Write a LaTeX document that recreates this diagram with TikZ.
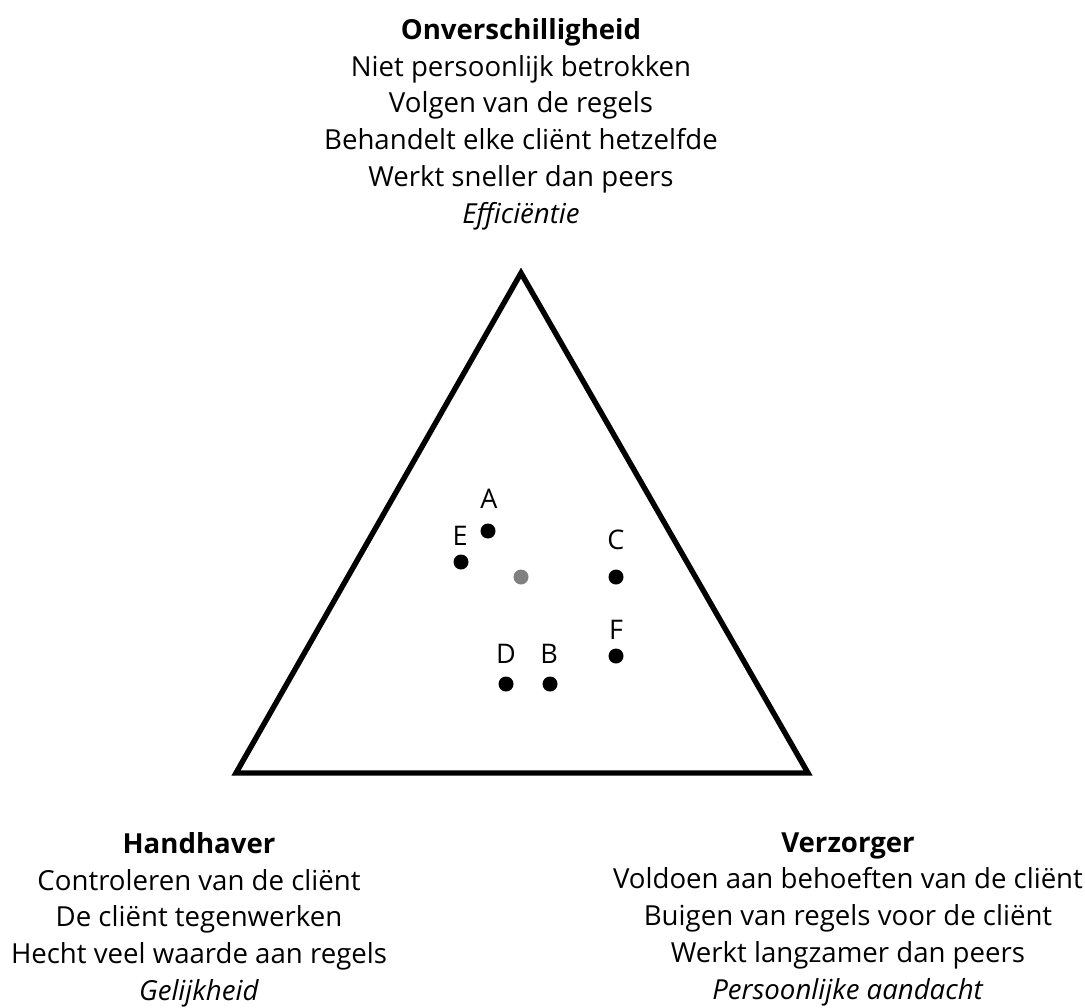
\documentclass[tikz,border=0pt]{standalone}
\usepackage{fontspec}
\setmainfont{Open Sans}
\usepackage{tikz}
\usetikzlibrary{positioning}

\tikzset{
  blok/.style={align=center, font=\fontsize{13.8}{18.4}\selectfont, inner sep=0pt},
  punt/.style={circle, fill=black, inner sep=0pt, minimum size=7.5pt},
  letter/.style={font=\fontsize{13.5}{14}\selectfont, inner sep=0pt}
}

\begin{document}
\begin{tikzpicture}[x=0.5pt, y=-0.5pt]
      \useasboundingbox (0,0) rectangle (1085,1007);
      % driehoek
      \coordinate (top) at (521,273);
      \coordinate (links) at (236,773);
      \coordinate (rechts) at (808,773);
      \draw[line width=2.7pt, line join=miter] (top) -- (links) -- (rechts) -- cycle;
      % hoeken
      \node[blok, anchor=north] (onverschillig) at (521,18) {\textbf{Onverschilligheid}\\
        Niet persoonlijk betrokken\\ Volgen van de regels\\
        Behandelt elke cliënt hetzelfde\\ Werkt sneller dan peers\\ \textit{Efficiëntie}};
      \node[blok, anchor=north] (handhaver) at (199,832) {\textbf{Handhaver}\\
        Controleren van de cliënt\\ De cliënt tegenwerken\\
        Hecht veel waarde aan regels\\ \textit{Gelijkheid}};
      \node[blok, anchor=north] (verzorger) at (848,832) {\textbf{Verzorger}\\
        Voldoen aan behoeften van de cliënt\\ Buigen van regels voor de cliënt\\
        Werkt langzamer dan peers\\ \textit{Persoonlijke aandacht}};
      % punten
      \node[punt] (A) at (488,531) {};
      \node[punt] (E) at (461,562) {};
      \node[punt, fill=gray] (midden) at (521,577) {};
      \node[punt] (C) at (616,577) {};
      \node[punt] (F) at (616,656) {};
      \node[punt] (D) at (506,684) {};
      \node[punt] (B) at (550,684) {};
      \node[letter] (lA) at (489,499) {A};
      \node[letter] (lE) at (460,536) {E};
      \node[letter] (lC) at (616,540) {C};
      \node[letter] (lF) at (616,630) {F};
      \node[letter] (lD) at (506,654) {D};
      \node[letter] (lB) at (549,654) {B};
\end{tikzpicture}
\end{document}
